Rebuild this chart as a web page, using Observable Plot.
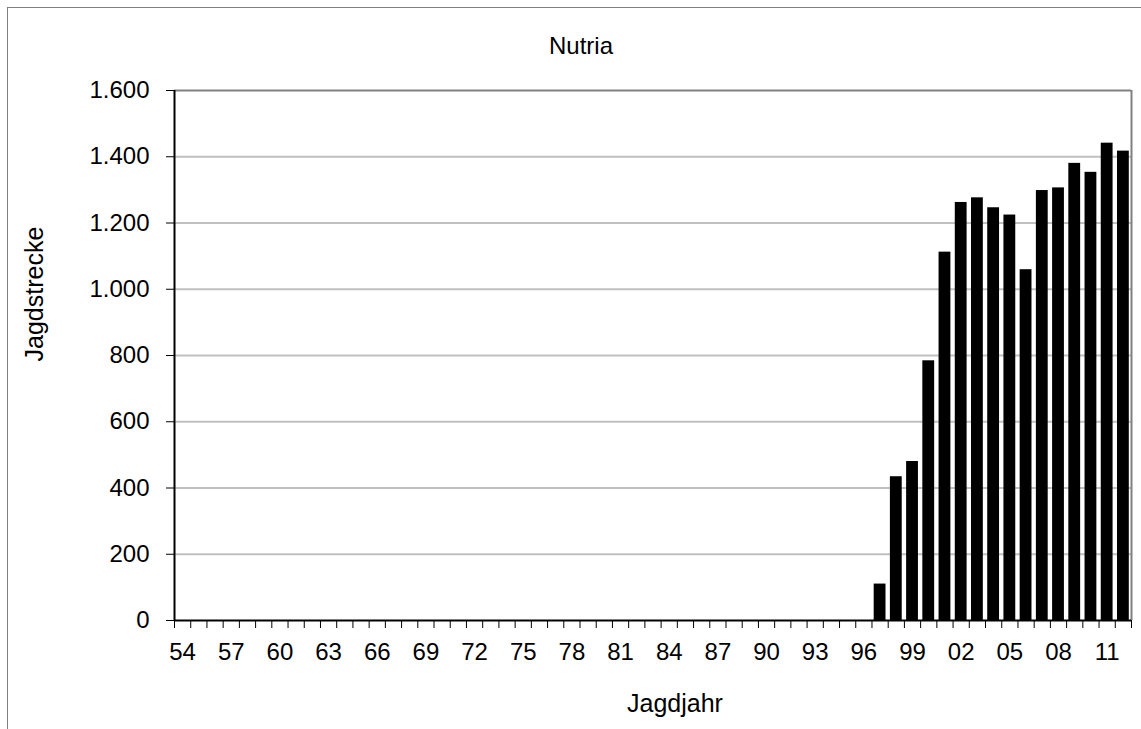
<!DOCTYPE html>
<html>
<head>
<meta charset="utf-8">
<script src="https://cdn.jsdelivr.net/npm/d3@7"></script>
<script src="https://cdn.jsdelivr.net/npm/@observablehq/plot@0.6"></script>
<style>
  html, body { margin: 0; padding: 0; background: #fff; }
  #wrap { position: relative; width: 1141px; height: 729px; overflow: hidden; }
  #border { position: absolute; left: 7px; top: 7px; width: 1200px; height: 800px;
            border-left: 1.5px solid #808080; border-top: 1.5px solid #808080; pointer-events: none; }
  #chart svg { display: block; }
</style>
</head>
<body>
<div id="wrap">
  <div id="chart"></div>
  <div id="border"></div>
</div>
<script>
// Jagdjahre 1954 - 2012
const years = [
  1954, 1955, 1956, 1957, 1958, 1959, 1960, 1961, 1962, 1963,
  1964, 1965, 1966, 1967, 1968, 1969, 1970, 1971, 1972, 1973,
  1974, 1975, 1976, 1977, 1978, 1979, 1980, 1981, 1982, 1983,
  1984, 1985, 1986, 1987, 1988, 1989, 1990, 1991, 1992, 1993,
  1994, 1995, 1996, 1997, 1998, 1999, 2000, 2001, 2002, 2003,
  2004, 2005, 2006, 2007, 2008, 2009, 2010, 2011, 2012
];
// Jagdstrecke Nutria
const strecke = [
  0, 0, 0, 0, 0, 0, 0, 0, 0, 0,
  0, 0, 0, 0, 0, 0, 0, 0, 0, 0,
  0, 0, 0, 0, 0, 0, 0, 0, 0, 0,
  0, 0, 0, 0, 0, 0, 0, 0, 0, 0,
  0, 0, 0, 110, 434, 480, 784, 1112, 1262, 1276,
  1246, 1224, 1059, 1298, 1306, 1380, 1353, 1441, 1417
];
const yTicks = [0, 200, 400, 600, 800, 1000, 1200, 1400, 1600];

const data = years.map((year, i) => ({year, value: strecke[i]}));
const labelYears = years.filter((y, i) => i % 3 === 0);
const bounds = years.map(y => y - 0.5).concat(years[years.length - 1] + 0.5);

const de = d3.formatLocale({decimal: ",", thousands: ".", grouping: [3], currency: ["", " €"]});
const fmt = de.format(",");

const chart = Plot.plot({
  width: 1141,
  height: 729,
  marginLeft: 174,
  marginRight: 10,
  marginTop: 90,
  marginBottom: 109,
  style: {fontFamily: "'Liberation Sans', Arial, sans-serif", fontSize: "24px", color: "#000", background: "#fff"},
  x: {type: "linear", domain: [bounds[0], bounds[bounds.length - 1]], axis: null},
  y: {domain: [0, 1600], axis: null},
  marks: [
    Plot.gridY(yTicks.slice(1, -1), {stroke: "#c0c0c0", strokeOpacity: 1, strokeWidth: 2}),
    Plot.ruleY([1600], {stroke: "#808080", strokeWidth: 2}),
    Plot.ruleX([bounds[bounds.length - 1]], {stroke: "#808080", strokeWidth: 2}),
    Plot.rectY(data.filter(d => d.value > 0), {
      x1: d => d.year - 0.5,
      x2: d => d.year + 0.5,
      y: "value",
      fill: "#000",
      insetLeft: 2.2,
      insetRight: 2.2
    }),
    Plot.ruleX([bounds[0]], {stroke: "#000", strokeWidth: 2}),
    Plot.ruleY([0], {stroke: "#000", strokeWidth: 2}),
    Plot.axisY({ticks: yTicks, tickFormat: fmt, tickSize: 8, tickPadding: 17, label: null, stroke: "#000"}),
    Plot.axisX({ticks: bounds, tickFormat: () => "", tickSize: 8, label: null, stroke: "#000"}),
    Plot.axisX({ticks: labelYears, tickFormat: d => String(d % 100).padStart(2, "0"), tickSize: 0, tickPadding: 22, label: null}),
    Plot.text(["Nutria"], {frameAnchor: "top", lineAnchor: "bottom", dx: -72, dy: -37, fontSize: 24}),
    Plot.text(["Jagdjahr"], {frameAnchor: "bottom", lineAnchor: "bottom", dx: 22, dy: 91, fontSize: 25}),
    Plot.text(["Jagdstrecke"], {frameAnchor: "left", lineAnchor: "bottom", rotate: -90, dx: -132, dy: 6, fontSize: 25})
  ]
});

d3.select("#chart").append(() => chart);
</script>
</body>
</html>
